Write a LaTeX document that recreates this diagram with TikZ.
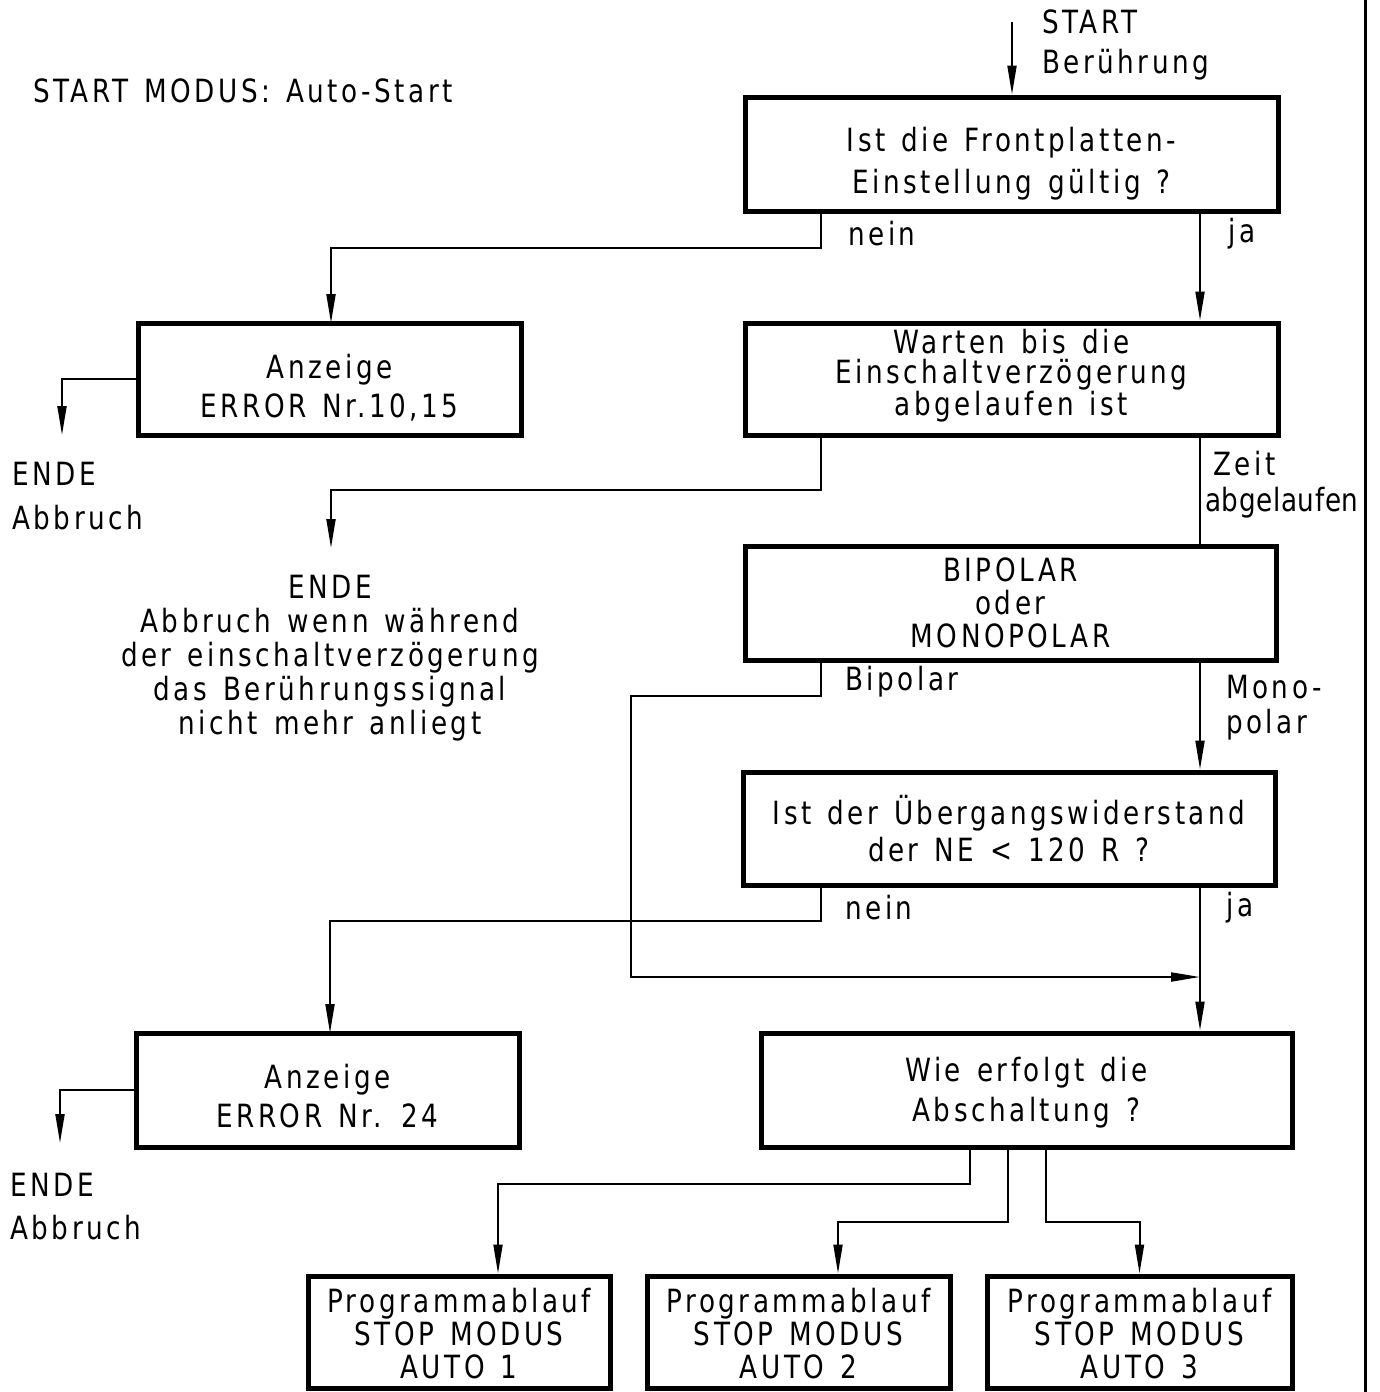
\documentclass[tikz,border=0pt]{standalone}
\usepackage{fontspec}
\setmainfont{DejaVu Sans}[FakeStretch=0.82,LetterSpace=11,WordSpace=1.35]
\newfontfamily\tightfont{DejaVu Sans}[FakeStretch=0.82,LetterSpace=2]
\usetikzlibrary{arrows.meta}
\begin{document}
\begin{tikzpicture}[x=1pt,y=-1pt,
  every node/.style={font=\fontsize{32}{40}\selectfont},
  box/.style={draw,line width=5pt,rectangle,inner sep=0pt,align=center,text depth=0pt},
  conn/.style={line width=2pt},
  arr/.style={conn,-{Triangle[length=29pt,width=9pt]}},
  lbl/.style={anchor=west,inner sep=0pt},
  note/.style={inner sep=0pt,align=left,anchor=west}]
\useasboundingbox (0,0) rectangle (1380,1392);
\fill[white] (0,0) rectangle (1380,1392);

% title
\node[lbl] (title) at (33,91) {START MODUS: Auto-Start};

% boxes
\node[box,minimum width=533pt,minimum height=114pt,text height=78pt,font=\fontsize{32}{42}\selectfont] (b1) at (1011.5,154) {Ist die Frontplatten-\\Einstellung gültig ?};
\node[box,minimum width=383pt,minimum height=112pt,text height=76pt,font=\fontsize{32}{39}\selectfont] (b2) at (329.5,379) {Anzeige\\ERROR Nr.10,15};
\node[box,minimum width=533pt,minimum height=112pt,text height=72pt,font=\fontsize{32}{30}\selectfont] (b3) at (1011.5,379) {Warten bis die\\Einschaltverzögerung\\abgelaufen ist};
\node[box,minimum width=531pt,minimum height=114pt,text height=88pt,font=\fontsize{32}{33}\selectfont] (b4) at (1010.5,603) {BIPOLAR\\oder\\MONOPOLAR};
\node[box,minimum width=532pt,minimum height=113pt,text height=66pt,font=\fontsize{32}{37}\selectfont] (b5) at (1009,828.5) {Ist der Übergangswiderstand\\der NE < 120 R ?};
\node[box,minimum width=383pt,minimum height=114pt,text height=75pt,font=\fontsize{32}{39}\selectfont] (b6) at (327.5,1090) {Anzeige\\ERROR Nr. 24};
\node[box,minimum width=531pt,minimum height=114pt,text height=63pt,font=\fontsize{32}{40}\selectfont] (b7) at (1026.5,1090) {Wie erfolgt die\\Abschaltung ?};
\node[box,minimum width=302pt,minimum height=112pt,text height=92pt,font=\fontsize{32}{33}\selectfont] (b8) at (459,1332) {Programmablauf\\STOP MODUS\\AUTO 1};
\node[box,minimum width=303pt,minimum height=112pt,text height=92pt,font=\fontsize{32}{33}\selectfont] (b9) at (798.5,1332) {Programmablauf\\STOP MODUS\\AUTO 2};
\node[box,minimum width=305pt,minimum height=112pt,text height=92pt,font=\fontsize{32}{33}\selectfont] (b10) at (1139.5,1332) {Programmablauf\\STOP MODUS\\AUTO 3};

% free texts
\node[note,font=\fontsize{32}{40}\selectfont] (startlbl) at (1042,45) {START\\Berührung};
\node[note,font=\fontsize{32}{44}\selectfont] (ende1) at (12,496) {ENDE\\Abbruch};
\node[inner sep=0pt,align=center,font=\fontsize{32}{34}\selectfont] (ende2) at (330,658) {ENDE\\Abbruch wenn während\\der einschaltverzögerung\\das Berührungssignal\\nicht mehr anliegt};
\node[note,font=\fontsize{32}{43}\selectfont] (ende3) at (10,1207) {ENDE\\Abbruch};

% helper coordinates
\coordinate (s0) at (1012,22);
\coordinate (cA) at (821,0);
\coordinate (cB) at (1200,0);
\coordinate (e1) at (62,435);
\coordinate (e2) at (331,548);
\coordinate (e3) at (60,1143);
\coordinate (j1) at (970,0);
\coordinate (j2) at (1008,0);
\coordinate (j3) at (1046,0);
\coordinate (t8) at (498,0);
\coordinate (t9) at (838,0);

% connectors
\draw[arr] (s0) -- (s0 |- b1.north);
\draw[arr] (cA |- b1.south) -- (821,248) -| (331,323);
\draw[arr] (cB |- b1.south) -- (cB |- b3.north);
\draw[arr] (b2.west) -| (e1);
\draw[arr] (cA |- b3.south) -- (821,490) -| (e2);
\draw[conn] (cB |- b3.south) -- (cB |- b4.north);
\draw[arr] (cA |- b4.south) -- (821,696) -- (631,696) -- (631,977) -- (1200,977);
\draw[arr] (cB |- b4.south) -- (cB |- b5.north);
\draw[arr] (cA |- b5.south) -- (821,921) -| (330,1033);
\draw[arr] (cB |- b5.south) -- (cB |- b7.north);
\draw[arr] (b6.west) -| (e3);
\draw[arr] (j1 |- b7.south) -- (970,1184) -| (t8 |- b8.north);
\draw[arr] (j2 |- b7.south) -- (1008,1222) -| (t9 |- b9.north);
\draw[arr] (j3 |- b7.south) -- (1046,1222) -| (b10.north);

% edge labels
\node[lbl] (l1) at (848,234) {nein};
\node[lbl] (l2) at (1228,234) {ja};
\node[lbl] (l3) at (1213,464) {Zeit};
\node[lbl,font=\fontsize{32}{40}\tightfont] (l4) at (1205,503) {abgelaufen};
\node[lbl] (l5) at (845,682) {Bipolar};
\node[lbl] (l6) at (1226,687) {Mono-};
\node[lbl] (l7) at (1226,725) {polar};
\node[lbl] (l8) at (845,908) {nein};
\node[lbl] (l9) at (1226,908) {ja};

% right frame line
\draw[line width=3pt] (1365,0) -- (1365,1392);
\end{tikzpicture}
\end{document}
